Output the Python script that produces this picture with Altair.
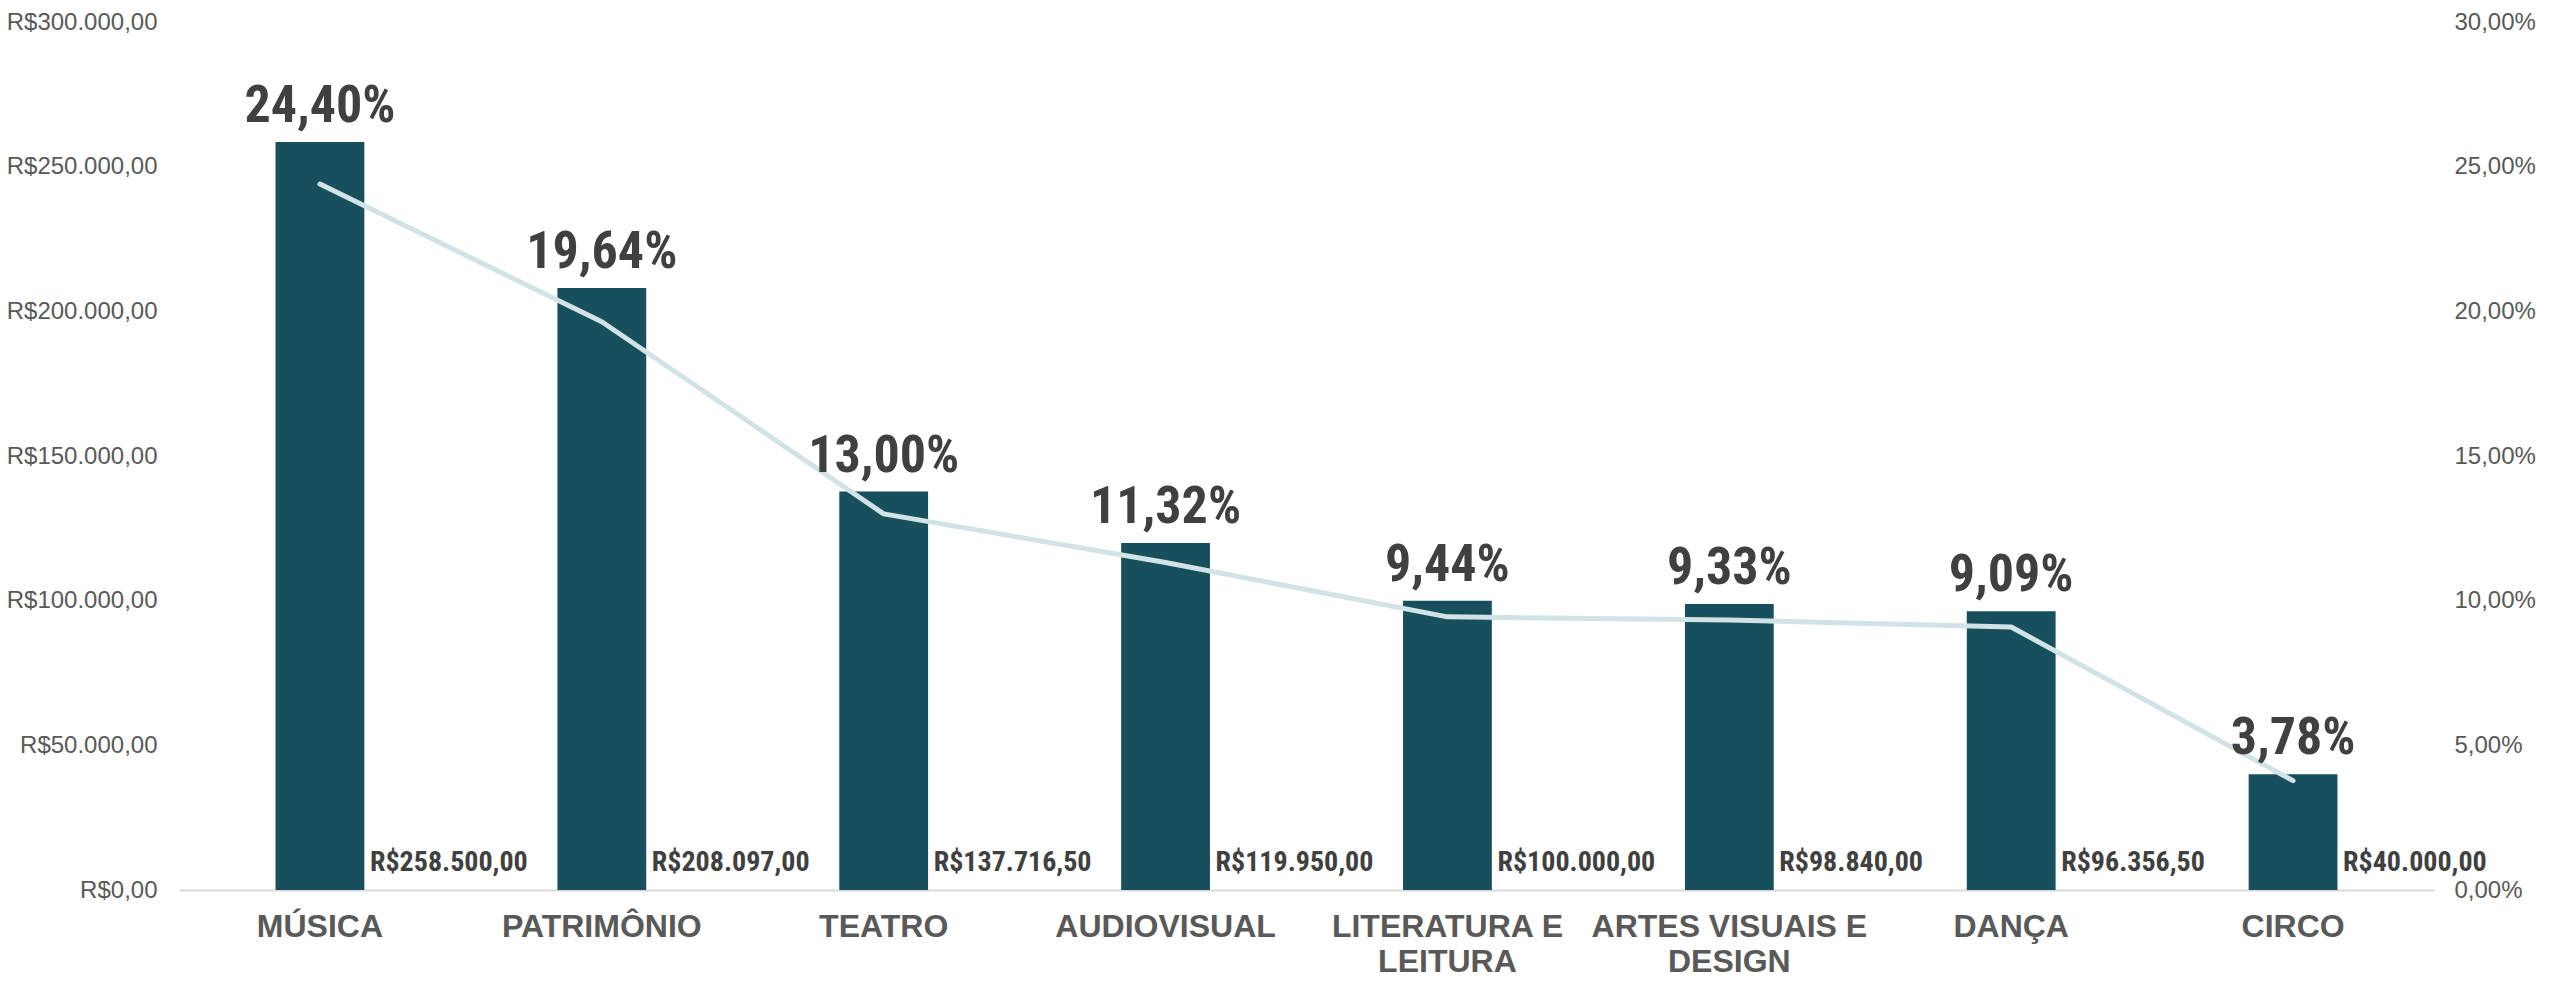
import altair as alt
import pandas as pd

categories = ["MÚSICA", "PATRIMÔNIO", "TEATRO", "AUDIOVISUAL",
              "LITERATURA E LEITURA", "ARTES VISUAIS E DESIGN", "DANÇA", "CIRCO"]
amounts = [258500.00, 208097.00, 137716.50, 119950.00, 100000.00, 98840.00, 96356.50, 40000.00]
percents = [24.40, 19.64, 13.00, 11.32, 9.44, 9.33, 9.09, 3.78]
left_ticks = [0, 50000, 100000, 150000, 200000, 250000, 300000]
right_ticks = [0, 0.05, 0.10, 0.15, 0.20, 0.25, 0.30]
wrapped = {"LITERATURA E LEITURA": ["LITERATURA E", "LEITURA"],
           "ARTES VISUAIS E DESIGN": ["ARTES VISUAIS E", "DESIGN"]}


def brl(v):
    s = f"{v:,.2f}".replace(",", "_").replace(".", ",").replace("_", ".")
    return "R$" + s


df = pd.DataFrame({
    "cat": categories,
    "amount": amounts,
    "share": [p / 100 for p in percents],
    "amount_label": [brl(v) for v in amounts],
    "pct_label": [f"{p:.2f}%".replace(".", ",") for p in percents],
})

label_expr = ""
for k, v in wrapped.items():
    label_expr += f"datum.label == '{k}' ? ['{v[0]}', '{v[1]}'] : "
label_expr += "datum.label"

x_enc = alt.X(
    "cat:N", sort=categories, title=None,
    scale=alt.Scale(paddingInner=0.685, paddingOuter=0.3425),
    axis=alt.Axis(labelAngle=0, labelFont="Liberation Sans", labelFontSize=32,
                  labelFontWeight="bold", labelColor="#595959", labelPadding=21,
                  labelLineHeight=35, labelBaseline="top", labelExpr=label_expr,
                  ticks=False, domain=True, domainColor="#D9D9D9", domainWidth=2,
                  grid=False, labelLimit=400),
)

base = alt.Chart(df).encode(x=x_enc)

money_scale = alt.Scale(domain=[0, 300000], nice=False)

money_expr = ("'R$' + replace(replace(replace(format(datum.value, ',.2f'), "
              "regexp(',', 'g'), '_'), regexp('[.]', 'g'), ','), regexp('_', 'g'), '.')")

bars = base.mark_bar(color="#174F5C").encode(
    y=alt.Y("amount:Q", scale=money_scale, title=None,
            axis=alt.Axis(orient="left", values=left_ticks, labelExpr=money_expr,
                          labelFont="Liberation Sans", labelFontSize=24,
                          labelColor="#595959", labelPadding=22, ticks=False,
                          domain=False, grid=False, labelLimit=400))
)

line = base.mark_line(color="#D1E3E6", strokeWidth=5, strokeCap="round",
                      strokeJoin="round").encode(
    y=alt.Y("share:Q", scale=alt.Scale(domain=[0, 0.30], nice=False), title=None,
            axis=alt.Axis(orient="right", values=right_ticks,
                          labelExpr="replace(format(datum.value, '.2%'), '.', ',')",
                          labelFont="Liberation Sans", labelFontSize=24,
                          labelColor="#595959", labelPadding=20, ticks=False,
                          domain=False, grid=False))
)

cond_font = "Roboto Condensed, Roboto, sans-serif"

pct_text = base.mark_text(font=cond_font, fontSize=52, fontWeight="bold",
                          color="#404040", baseline="alphabetic", align="center",
                          dy=-20).encode(
    y=alt.Y("amount:Q", scale=money_scale, axis=None),
    text="pct_label:N",
)

amt_text = base.mark_text(font=cond_font, fontSize=28, fontWeight="bold",
                          color="#404040", baseline="alphabetic", align="left",
                          dx=50, dy=-19).encode(
    y=alt.Y("zero:Q", scale=money_scale, axis=None),
    text="amount_label:N",
).transform_calculate(zero="0")

chart = alt.layer(bars, line, pct_text, amt_text).resolve_scale(
    y="independent"
).properties(
    width=2255, height=868,
    padding={"left": 171, "top": 14, "right": 105, "bottom": 89},
    autosize=alt.AutoSizeParams(type="none"),
).configure_view(stroke="transparent")

chart.save("out.html", embed_options={"renderer": "svg", "actions": False})
